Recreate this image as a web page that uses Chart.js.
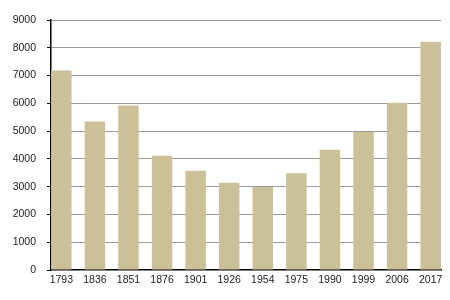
<!DOCTYPE html>
<html>
<head>
<meta charset="utf-8">
<script src="https://cdn.jsdelivr.net/npm/chart.js@4"></script>
<style>
html,body{margin:0;padding:0;background:#fff;}
#wrap{width:450px;height:300px;}
</style>
</head>
<body>
<div id="wrap"><canvas id="c" width="450" height="300"></canvas></div>
<script>
const years = ['1793','1836','1851','1876','1901','1926','1954','1975','1990','1999','2006','2017'];
const population = [7180, 5350, 5920, 4110, 3570, 3140, 2990, 3480, 4330, 4970, 6020, 8220];
const yTicks = [0, 1000, 2000, 3000, 4000, 5000, 6000, 7000, 8000, 9000];

const points = population.map((v, i) => ({x: i, y: v}));

new Chart(document.getElementById('c'), {
  type: 'bar',
  data: {
    datasets: [{
      data: points,
      backgroundColor: '#cbc098',
      borderWidth: 0,
      categoryPercentage: 1,
      barPercentage: 0.61
    }]
  },
  options: {
    responsive: false,
    animation: false,
    events: [],
    layout: {padding: {top: 20, right: 9, left: 0, bottom: 0}},
    plugins: {legend: {display: false}, tooltip: {enabled: false}},
    scales: {
      x: {
        type: 'linear',
        offset: false,
        min: -0.307,
        max: years.length - 1 + 0.307,
        afterBuildTicks: s => { s.ticks = years.map((_, i) => ({value: i})); },
        afterFit: s => { s.height = 30; },
        grid: {display: true, drawOnChartArea: false, drawTicks: false},
        border: {display: true, color: '#000', width: 1.5},
        ticks: {
          padding: 4,
          autoSkip: false,
          maxRotation: 0,
          color: '#222',
          font: {family: 'Liberation Sans, Arial, sans-serif', size: 10.5},
          callback: v => years[v]
        }
      },
      y: {
        min: 0,
        max: yTicks[yTicks.length - 1],
        afterBuildTicks: s => {
          const t = [];
          for (let v = 0; v <= s.max; v += 500) t.push({value: v});
          s.ticks = t;
        },
        afterFit: s => { s.width = 51; },
        grid: {
          color: c => (c.tick && c.tick.value % 1000 === 0) ? (c.tick.value === 0 ? 'rgba(0,0,0,0)' : '#9a9a9a') : '#d6d6d6',
          lineWidth: 1,
          tickColor: '#000',
          tickLength: 4
        },
        border: {display: true, color: '#000', width: 1.5},
        ticks: {
          padding: 11,
          color: '#222',
          font: {family: 'Liberation Sans, Arial, sans-serif', size: 10.5},
          callback: v => yTicks.includes(v) ? String(v) : ''
        }
      }
    }
  }
});
</script>
</body>
</html>
